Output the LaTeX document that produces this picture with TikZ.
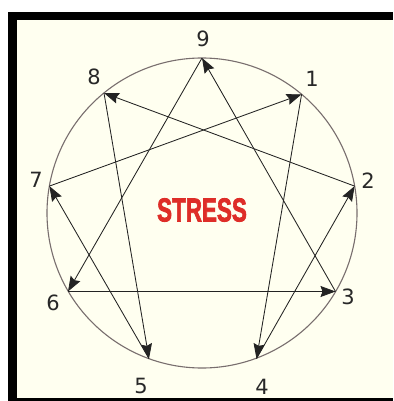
\documentclass[tikz,border=0pt]{standalone}
\usepackage{fontspec}
\setmainfont{DejaVu Sans}
\newfontfamily\stressfont[FakeBold=2.5]{Liberation Sans Bold}
\usetikzlibrary{arrows.meta}
\definecolor{bgcream}{RGB}{255,255,240}
\definecolor{linedark}{RGB}{35,35,35}
\definecolor{circgray}{RGB}{120,110,110}
\definecolor{numgray}{RGB}{40,40,40}
\definecolor{stressred}{RGB}{222,45,40}
\tikzset{
  numlabel/.style={text=numgray, font=\fontsize{21}{21}\selectfont, inner sep=0pt, anchor=center},
  stressarrow/.style={draw=linedark, line width=0.85pt, -{Stealth[length=15pt,width=11pt,inset=2pt]}},
}
\begin{document}
\begin{tikzpicture}[x=1pt,y=-1pt]
\useasboundingbox (0,0) rectangle (393,401);
% frame
\fill[white] (0,0) rectangle (393,401);
\fill[black] (8,12.5) rectangle (393,401);
\fill[bgcream] (17,20) rectangle (393,398);
% circle
\draw[circgray, line width=1.1pt] (202,213) circle[radius=155];
% points
\coordinate (p9) at (202,58);
\coordinate (p1) at (301.6,94.3);
\coordinate (p2) at (354.6,186.1);
\coordinate (p3) at (335.5,291.5);
\coordinate (p4) at (256.5,358.7);
\coordinate (p5) at (149.0,358.7);
\coordinate (p6) at (68,291.5);
\coordinate (p7) at (49.4,186.1);
\coordinate (p8) at (104,93);
% labels
\node[numlabel] (n9) at (203,39) {9};
\node[numlabel] (n1) at (312,79) {1};
\node[numlabel] (n2) at (368,181) {2};
\node[numlabel] (n3) at (348,297) {3};
\node[numlabel] (n4) at (262,387) {4};
\node[numlabel] (n5) at (141,386) {5};
\node[numlabel] (n6) at (53,303) {6};
\node[numlabel] (n7) at (36,180) {7};
\node[numlabel] (n8) at (94,77) {8};
% arrows (direction of stress)
\draw[stressarrow] (p1) -- (p4);
\draw[stressarrow] (p4) -- (p2);
\draw[stressarrow] (p2) -- (p8);
\draw[stressarrow] (p8) -- (p5);
\draw[stressarrow] (p5) -- (p7);
\draw[stressarrow] (p7) -- (p1);
\draw[stressarrow] (p9) -- (p6);
\draw[stressarrow] (p6) -- (p3);
\draw[stressarrow] (p3) -- (p9);
% title
\node[text=stressred, font=\stressfont\fontsize{33}{33}\selectfont, xscale=0.68, inner sep=0pt] (stress) at (202,210) {STRESS};
\end{tikzpicture}
\end{document}
